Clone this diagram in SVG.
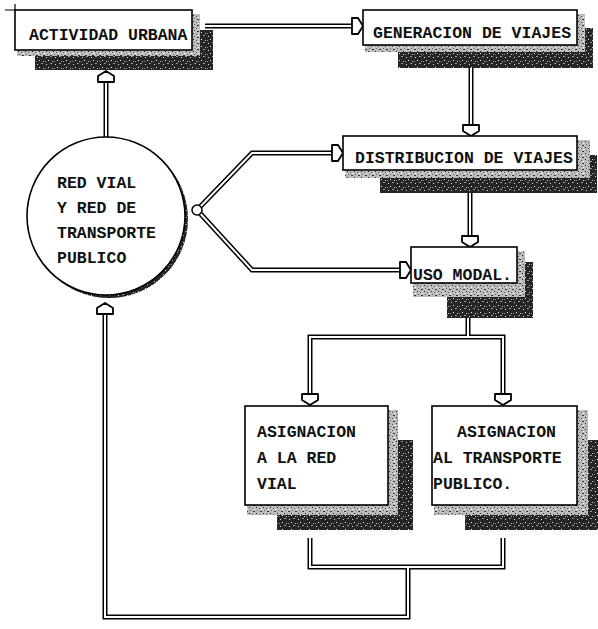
<svg xmlns="http://www.w3.org/2000/svg" width="598" height="629" viewBox="0 0 598 629">
<style>
.box{fill:#fff;stroke:#000;stroke-width:1.6}
.lbl{font-family:"Liberation Mono","Courier New",monospace;font-size:16.5px;font-weight:bold;fill:#111}
.dk{fill:url(#pdk)}
.lt{fill:url(#plt)}
.ol{fill:none;stroke:#000;stroke-width:5;stroke-linejoin:miter}
.il{fill:none;stroke:#fff;stroke-width:2;stroke-linejoin:miter}
.ah{fill:#fff;stroke:#000;stroke-width:1.8;stroke-linejoin:round}
</style>
<defs>
<pattern id="pdk" width="9" height="7" patternUnits="userSpaceOnUse">
<rect width="9" height="7" fill="#262626"/>
<rect x="1" y="1" width="1" height="1" fill="#ddd"/>
<rect x="5" y="0" width="2" height="1" fill="#999"/>
<rect x="3" y="4" width="1" height="1" fill="#eee"/>
<rect x="7" y="5" width="1" height="1" fill="#bbb"/>
<rect x="0" y="5" width="1" height="1" fill="#888"/>
</pattern>
<pattern id="plt" width="7" height="6" patternUnits="userSpaceOnUse">
<rect width="7" height="6" fill="#bdbdbd"/>
<rect x="1" y="1" width="2" height="1" fill="#333"/>
<rect x="4" y="3" width="1" height="1" fill="#222"/>
<rect x="5" y="0" width="1" height="1" fill="#666"/>
<rect x="0" y="4" width="1" height="1" fill="#555"/>
<rect x="2" y="5" width="1" height="1" fill="#fff"/>
</pattern>
<path id="ah" class="ah" d="M-8,-11 H8 V-5 L0,0 L-8,-5 Z"/>
</defs>
<rect width="598" height="629" fill="#fff"/>

<g id="connectors">
<g class="ol">
<path d="M205,26 H353"/>
<path d="M471,68 V126"/>
<path d="M470,193 V237"/>
<path d="M197,210 L252,153 H333"/>
<path d="M197,210 L252,270 H401"/>
<path d="M106,138 V81"/>
<path d="M468,318 V337 M310,395 V337 H503 V395"/>
<path d="M310,538 V567 H503 V538 M408,567 V617 H105 V314"/>
</g>
<g class="il">
<path d="M205,26 H353"/>
<path d="M471,68 V126"/>
<path d="M470,193 V237"/>
<path d="M197,210 L252,153 H333"/>
<path d="M197,210 L252,270 H401"/>
<path d="M106,138 V81"/>
<path d="M468,318 V337 M310,395 V337 H503 V395"/>
<path d="M310,538 V567 H503 V538 M408,567 V617 H105 V314"/>
</g>
<use href="#ah" transform="translate(363,26) rotate(-90)"/>
<use href="#ah" transform="translate(471,136)"/>
<use href="#ah" transform="translate(470,247)"/>
<use href="#ah" transform="translate(343,153) rotate(-90)"/>
<use href="#ah" transform="translate(411,270) rotate(-90)"/>
<use href="#ah" transform="translate(106,71) rotate(180)"/>
<use href="#ah" transform="translate(310,405)"/>
<use href="#ah" transform="translate(503,405)"/>
<use href="#ah" transform="translate(105,303) rotate(180)"/>
<circle cx="197" cy="210" r="5" fill="#fff" stroke="#000" stroke-width="1.5"/>
</g>

<g id="n-actividad">
<rect class="dk" x="35" y="30" width="178" height="40"/>
<rect class="lt" x="17" y="14" width="183" height="42"/>
<rect class="box" x="15" y="10" width="177" height="40"/>
<path d="M5,10 H15 M15,4 V10" stroke="#000" stroke-width="1.2"/>
<text class="lbl" x="29" y="40">ACTIVIDAD URBANA</text>
</g>

<g id="n-generacion">
<rect class="dk" x="398" y="28" width="195" height="40"/>
<rect class="lt" x="365" y="14" width="220" height="38"/>
<rect class="box" x="363" y="10" width="214" height="35"/>
<text class="lbl" x="373" y="38">GENERACION DE VIAJES</text>
</g>

<g id="n-distribucion">
<rect class="dk" x="380" y="155" width="217" height="38"/>
<rect class="lt" x="345" y="140" width="245" height="38"/>
<rect class="box" x="343" y="136" width="234" height="34"/>
<text class="lbl" x="355" y="163">DISTRIBUCION DE VIAJES</text>
</g>

<g id="n-uso">
<rect class="dk" x="447" y="262" width="86" height="56"/>
<rect class="lt" x="413" y="251" width="112" height="46"/>
<rect class="box" x="411" y="247" width="106" height="36"/>
<text class="lbl" x="413" y="280">USO MODAL.</text>
</g>

<g id="n-red">
<circle class="dk" cx="109" cy="219" r="79"/>
<circle cx="106" cy="216" r="79" fill="#fff" stroke="#000" stroke-width="1.6"/>
<text class="lbl" x="57" y="188">RED VIAL</text>
<text class="lbl" x="57" y="213">Y RED DE</text>
<text class="lbl" x="57" y="238">TRANSPORTE</text>
<text class="lbl" x="57" y="263">PUBLICO</text>
</g>

<g id="n-asig-vial">
<rect class="dk" x="277" y="440" width="136" height="90"/>
<rect class="lt" x="247" y="410" width="151" height="105"/>
<rect class="box" x="245" y="406" width="143" height="99"/>
<text class="lbl" x="257" y="437">ASIGNACION</text>
<text class="lbl" x="257" y="463">A LA RED</text>
<text class="lbl" x="257" y="489">VIAL</text>
</g>

<g id="n-asig-tp">
<rect class="dk" x="465" y="440" width="133" height="90"/>
<rect class="lt" x="434" y="410" width="154" height="105"/>
<rect class="box" x="432" y="406" width="145" height="99"/>
<text class="lbl" x="457" y="437">ASIGNACION</text>
<text class="lbl" x="433" y="463">AL TRANSPORTE</text>
<text class="lbl" x="433" y="489">PUBLICO.</text>
</g>
</svg>
